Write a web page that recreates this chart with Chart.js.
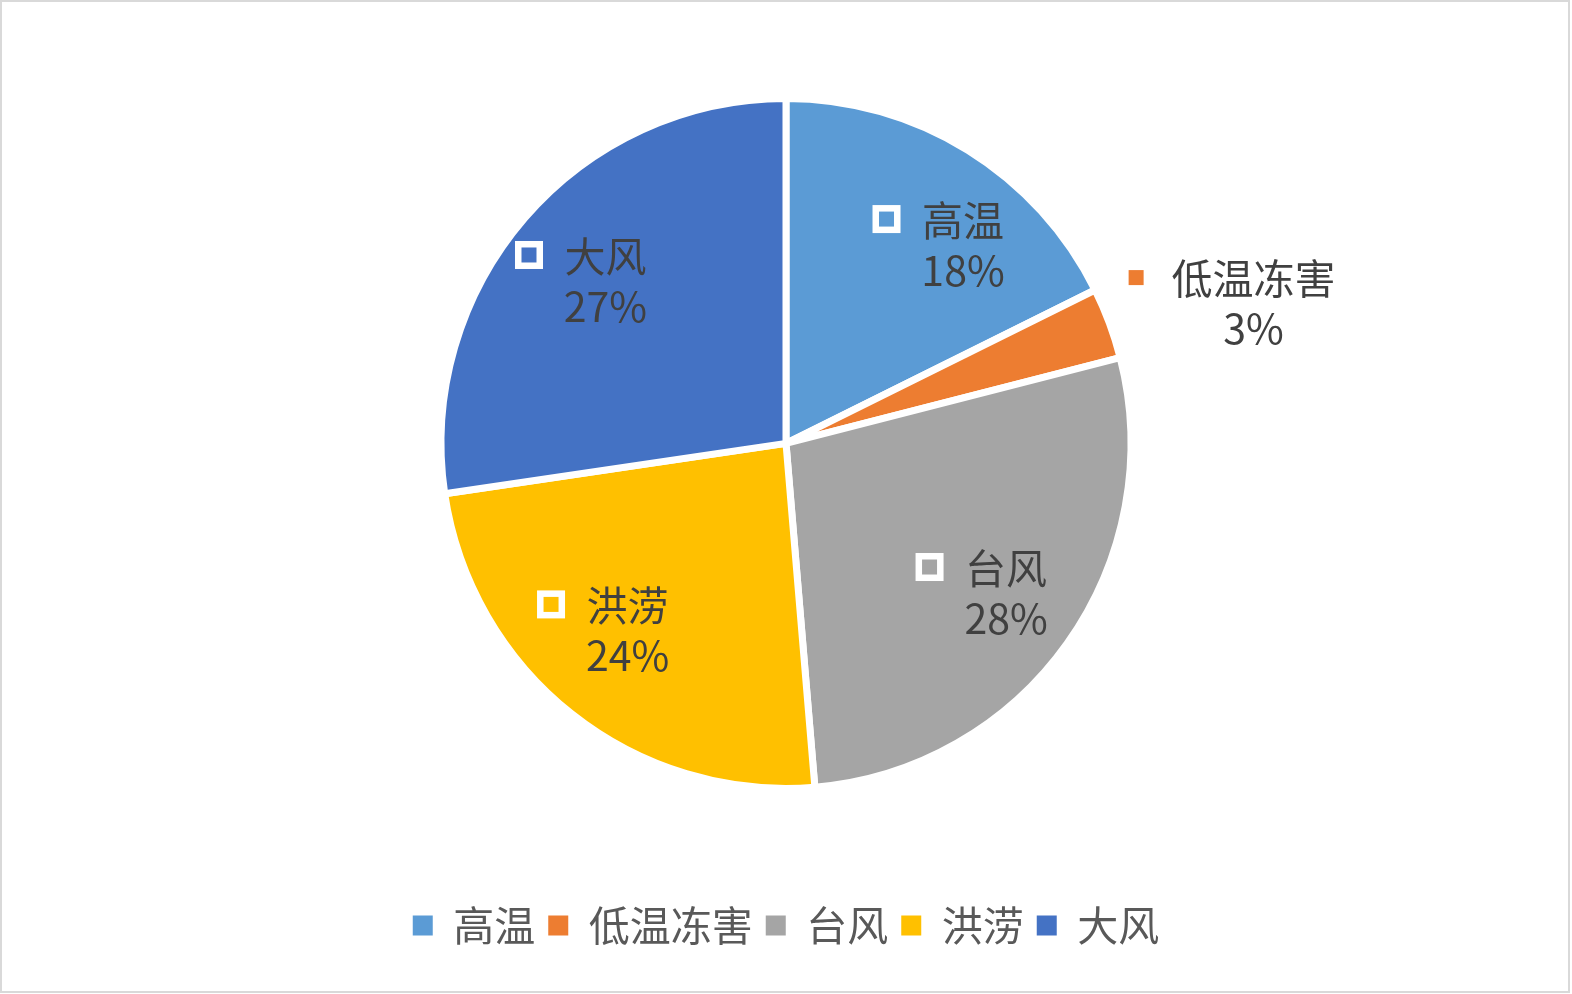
<!DOCTYPE html>
<html lang="zh-CN">
<head>
<meta charset="utf-8">
<title>灾害类型占比</title>
<script src="https://cdn.jsdelivr.net/npm/chart.js@4.4.1/dist/chart.umd.min.js"></script>
<style>
  html, body { margin: 0; padding: 0; background: #fff; }
  .frame {
    position: absolute;
    left: 0;
    top: 0;
    width: 1566px;
    height: 989px;
    border: 2px solid #d9d9d9;
  }
  canvas { display: block; }
</style>
</head>
<body>
<div class="frame"><canvas id="pieChart"></canvas></div>
<script>
const categories = ["高温", "低温冻害", "台风", "洪涝", "大风"];
const counts = [53, 10, 83, 72, 82];
const colors = ["#5b9bd5", "#ed7d31", "#a5a5a5", "#ffc000", "#4472c4"];

// where each data label sits: radius factor of the pie, and a small turn in degrees
const labelPlacement = [
  [0.738, 6.3],
  [1.369, 3.0],
  [0.728, 1.6],
  [0.76, 5.5],
  [0.759, -2.0],
];

const fontFamily = "'Noto Sans CJK SC', 'Noto Sans', sans-serif";
const sliceBorder = 7;
const pieRadius = 341.5;

Chart.defaults.font.family = fontFamily;

const sliceLabels = {
  id: "sliceLabels",
  afterDatasetsDraw(chart) {
    const { ctx } = chart;
    const meta = chart.getDatasetMeta(0);
    const total = counts.reduce((a, b) => a + b, 0);

    ctx.save();
    ctx.font = `41px ${fontFamily}`;
    ctx.textBaseline = "middle";

    meta.data.forEach((arc, i) => {
      const { x, y, startAngle, endAngle, outerRadius } = arc.getProps(
        ["x", "y", "startAngle", "endAngle", "outerRadius"],
        true
      );
      const [factor, turn] = labelPlacement[i];
      const angle = (startAngle + endAngle) / 2 + (turn * Math.PI) / 180;
      const r = (outerRadius - sliceBorder / 2) * factor;
      const cx = x + Math.cos(angle) * r;
      const cy = y + Math.sin(angle) * r;

      const name = categories[i];
      const pct = Math.round((counts[i] / total) * 100) + "%";
      const nameWidth = ctx.measureText(name).width;
      const keySize = 15;
      const keyGap = 28;
      const left = cx - (keySize + keyGap + nameWidth) / 2;
      const line1 = cy - 25;
      const line2 = cy + 25;
      const keyTop = line1 - 1 - keySize / 2;

      ctx.fillStyle = "#ffffff";
      ctx.fillRect(left - 6.5, keyTop - 6.5, keySize + 13, keySize + 13);
      ctx.fillStyle = colors[i];
      ctx.fillRect(left, keyTop, keySize, keySize);

      const textX = left + keySize + keyGap;
      ctx.fillStyle = "#404040";
      ctx.textAlign = "left";
      ctx.fillText(name, textX, line1);
      ctx.textAlign = "center";
      ctx.fillText(pct, textX + nameWidth / 2, line2);
    });

    ctx.restore();
  },
};

const ctx = document.getElementById("pieChart").getContext("2d");

new Chart(ctx, {
  type: "pie",
  data: {
    labels: categories,
    datasets: [
      {
        data: counts,
        backgroundColor: colors,
        borderColor: "#ffffff",
        borderWidth: sliceBorder,
        radius: pieRadius + sliceBorder / 2,
      },
    ],
  },
  options: {
    responsive: true,
    maintainAspectRatio: false,
    animation: false,
    layout: {
      padding: { top: 1, left: 2, right: 0, bottom: 35 },
    },
    plugins: {
      tooltip: { enabled: false },
      legend: {
        position: "bottom",
        title: {
          display: true,
          text: " ",
          font: { size: 1 },
          padding: { top: 7, bottom: 0 },
        },
        labels: {
          boxWidth: 20,
          boxHeight: 20,
          padding: 13,
          color: "#595959",
          font: { size: 41 },
          generateLabels(chart) {
            const items = Chart.overrides.pie.plugins.legend.labels.generateLabels(chart);
            return items.map((item) => ({ ...item, lineWidth: 0 }));
          },
        },
      },
    },
  },
  plugins: [sliceLabels],
});
</script>
</body>
</html>
